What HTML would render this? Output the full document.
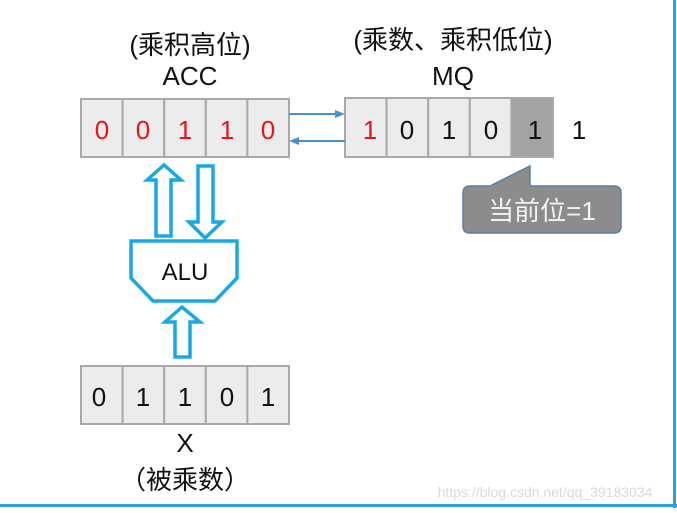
<!DOCTYPE html>
<html><head><meta charset="utf-8"><style>
body{margin:0;width:677px;height:508px;background:#fff;overflow:hidden;font-family:"Liberation Sans","Noto Sans CJK SC",sans-serif}
</style></head><body>
<svg width="677" height="508" viewBox="0 0 677 508" xmlns="http://www.w3.org/2000/svg" font-family="Liberation Sans, Noto Sans CJK SC, sans-serif">
<line x1="0" y1="505.5" x2="677" y2="505.5" stroke="#29a3dc" stroke-width="3"/>
<line x1="674.5" y1="0" x2="674.5" y2="508" stroke="#29a3dc" stroke-width="3"/>
<g font-size="26" text-anchor="middle" fill="#111">
<text x="190" y="54">(乘积高位)</text>
<text x="190" y="85">ACC</text>
<text x="453" y="49">(乘数、乘积低位)</text>
<text x="453" y="85">MQ</text>
</g>
<g stroke="#a9a9a9" stroke-width="2" fill="#ececec">
<rect x="81" y="99" width="41.6" height="58"/><rect x="122.6" y="99" width="41.6" height="58"/><rect x="164.2" y="99" width="41.6" height="58"/><rect x="205.8" y="99" width="41.6" height="58"/><rect x="247.4" y="99" width="41.6" height="58"/>
<rect x="345" y="98" width="41.6" height="59"/><rect x="386.6" y="98" width="41.6" height="59"/><rect x="428.2" y="98" width="41.6" height="59"/><rect x="469.8" y="98" width="41.6" height="59"/><rect x="511.4" y="98" width="41.6" height="59" fill="#a3a3a3"/>
<rect x="81" y="366" width="41.6" height="58"/><rect x="122.6" y="366" width="41.6" height="58"/><rect x="164.2" y="366" width="41.6" height="58"/><rect x="205.8" y="366" width="41.6" height="58"/><rect x="247.4" y="366" width="41.6" height="58"/>
</g>
<g font-size="26" text-anchor="middle">
<g fill="#e8141a"><text x="102" y="139">0</text><text x="143" y="139">0</text><text x="185" y="139">1</text><text x="227" y="139">1</text><text x="268" y="139">0</text><text x="370" y="139">1</text></g>
<g fill="#111"><text x="407" y="139">0</text><text x="449" y="139">1</text><text x="491" y="139">0</text><text x="535" y="139">1</text><text x="579" y="139">1</text>
<text x="99" y="406">0</text><text x="143" y="406">1</text><text x="185" y="406">1</text><text x="227" y="406">0</text><text x="268" y="406">1</text>
<text x="185" y="452">X</text><text x="185" y="489">（被乘数）</text></g>
</g>
<g stroke="#4a8fd4" stroke-width="2" fill="#4a8fd4">
<line x1="289" y1="114" x2="336" y2="114"/><polygon points="345,114 335,110 335,118" stroke="none"/>
<line x1="298" y1="141" x2="345" y2="141"/><polygon points="289,141 299,137 299,145" stroke="none"/>
</g>
<g stroke="#18a8e8" stroke-width="3.5" fill="none" stroke-linejoin="miter">
<polygon points="164,165 147,180 156,180 156,236 171,236 171,180 181,180"/>
<polygon points="198,166 213,166 213,222 222,222 205,238 189,222 198,222"/>
<polygon points="131,241 237,241 237,278 215,301 153,301 131,278"/>
<polygon points="182,307 165,322 175,322 175,357 190,357 190,322 200,322"/>
</g>
<text x="185" y="280" font-size="24" text-anchor="middle" fill="#111">ALU</text>
<path d="M470,186 L490,186 L530,166 L530,186 L614,186 Q621,186 621,193 L621,226 Q621,233 614,233 L470,233 Q463,233 463,226 L463,193 Q463,186 470,186 Z" fill="#8c8c8c" stroke="#5a7fa8" stroke-width="1.5"/>
<text x="542" y="220" font-size="26" text-anchor="middle" fill="#f2f2f2">当前位=1</text>
<text x="545" y="497" font-size="14" text-anchor="middle" fill="#d9d9d9">https://blog.csdn.net/qq_39183034</text>
</svg>
</body></html>
